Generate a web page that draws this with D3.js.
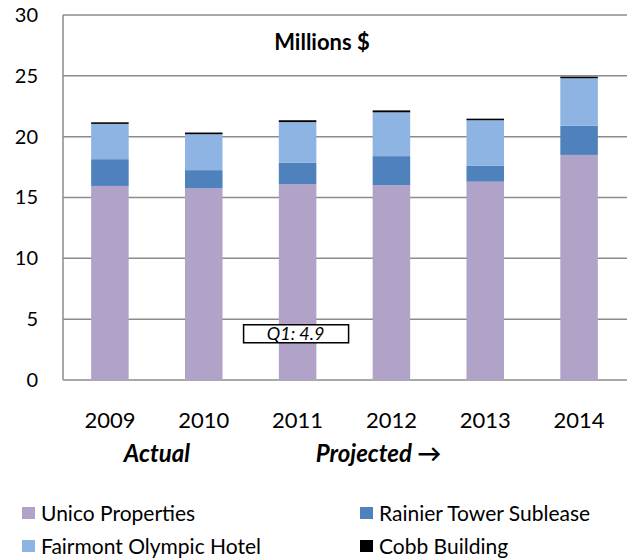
<!DOCTYPE html>
<html>
<head>
<meta charset="utf-8">
<script src="https://cdn.jsdelivr.net/npm/d3@7"></script>
<style>
  body { margin: 0; background: #fff; }
  svg { font-family: Lato, "Open Sans", sans-serif; }
</style>
</head>
<body>
<div id="chart"></div>
<script>
// Chart data (millions of dollars)
const years = ["2009", "2010", "2011", "2012", "2013", "2014"];
const seriesNames = ["Unico Properties", "Rainier Tower Sublease", "Fairmont Olympic Hotel", "Cobb Building"];
const unico = [15.95, 15.75, 16.1, 16.0, 16.3, 18.5];
const rainier = [2.2, 1.5, 1.75, 2.4, 1.3, 2.4];
const fairmont = [2.9, 2.95, 3.35, 3.6, 3.75, 3.9];
const cobb = [0.13, 0.14, 0.15, 0.16, 0.13, 0.13];
const yTicks = [0, 5, 10, 15, 20, 25, 30];
const colors = ["#b1a3c8", "#4f81bd", "#8eb4e3", "#000000"];

const width = 627;
const height = 558;
const margin = { top: 15, right: 1, bottom: 178, left: 63 };

const svg = d3.select("#chart")
    .append("svg")
    .attr("width", width)
    .attr("height", height);

// Build rows for the stack
const rows = years.map((y, i) => ({
    year: y,
    [seriesNames[0]]: unico[i],
    [seriesNames[1]]: rainier[i],
    [seriesNames[2]]: fairmont[i],
    [seriesNames[3]]: cobb[i]
}));
const stacked = d3.stack().keys(seriesNames)(rows);

const x = d3.scaleBand()
    .domain(years)
    .range([margin.left, width - margin.right])
    .paddingInner(0.6)
    .paddingOuter(0.3);

const y = d3.scaleLinear()
    .domain([0, 30])
    .range([height - margin.bottom, margin.top]);

// Gridlines
svg.append("g")
    .selectAll("line")
    .data(yTicks)
    .enter()
    .append("line")
    .attr("x1", margin.left)
    .attr("x2", width)
    .attr("y1", d => y(d))
    .attr("y2", d => y(d))
    .attr("stroke", "#8c8c8c")
    .attr("stroke-width", 1.5);

// Left axis line
svg.append("line")
    .attr("x1", margin.left)
    .attr("x2", margin.left)
    .attr("y1", y(30))
    .attr("y2", y(0))
    .attr("stroke", "#8c8c8c")
    .attr("stroke-width", 1.5);

// Y axis labels
const yAxis = svg.append("g")
    .attr("transform", `translate(${margin.left - 25},0)`)
    .call(d3.axisLeft(y).tickValues(yTicks).tickSize(0).tickPadding(0));
yAxis.select(".domain").remove();
yAxis.selectAll("text")
    .attr("font-family", "Lato, sans-serif")
    .attr("font-size", 20)
    .attr("fill", "#000");

// Stacked bars
svg.append("g")
    .selectAll("g")
    .data(stacked)
    .enter()
    .append("g")
    .attr("fill", (d, i) => colors[i])
    .selectAll("rect")
    .data(d => d)
    .enter()
    .append("rect")
    .attr("x", d => x(d.data.year))
    .attr("width", x.bandwidth())
    .attr("y", d => y(d[1]))
    .attr("height", d => y(d[0]) - y(d[1]));

// X axis labels
const xAxis = svg.append("g")
    .attr("transform", `translate(0,${y(0) + 48})`)
    .call(d3.axisBottom(x).tickSize(0).tickPadding(0));
xAxis.select(".domain").remove();
xAxis.selectAll("text")
    .attr("font-family", "Lato, sans-serif")
    .attr("font-size", 22)
    .attr("dy", 0)
    .attr("fill", "#000");

// Title
svg.append("text")
    .attr("x", 322)
    .attr("y", 50)
    .attr("text-anchor", "middle")
    .attr("font-weight", "bold")
    .attr("font-size", 22)
    .text("Millions $");

// Actual / Projected labels
svg.append("text")
    .attr("x", (x("2009") + x("2010") + x.bandwidth()) / 2)
    .attr("y", 462)
    .attr("text-anchor", "middle")
    .attr("font-weight", "bold")
    .attr("font-style", "italic")
    .attr("font-size", 24)
    .text("Actual");

svg.append("text")
    .attr("x", (x("2011") + x("2012") + x.bandwidth()) / 2 + 34)
    .attr("y", 462)
    .attr("text-anchor", "middle")
    .attr("font-weight", "bold")
    .attr("font-style", "italic")
    .attr("font-size", 24)
    .text("Projected \u2192");

// Q1 annotation box
const q1 = svg.append("g").attr("transform", `translate(${x("2011") + x.bandwidth() / 2 - 2},${y(3.8)})`);
q1.append("rect")
    .attr("x", -52)
    .attr("y", -9)
    .attr("width", 105)
    .attr("height", 18)
    .attr("fill", "#fff")
    .attr("stroke", "#000")
    .attr("stroke-width", 1.5);
q1.append("text")
    .attr("text-anchor", "middle")
    .attr("dy", "0.36em")
    .attr("font-style", "italic")
    .attr("font-size", 18)
    .text("Q1: 4.9");

// Legend
const legendPos = [[22, 513], [360, 513], [22, 546], [360, 546]];
const legend = svg.append("g")
    .selectAll("g")
    .data(seriesNames)
    .enter()
    .append("g")
    .attr("transform", (d, i) => `translate(${legendPos[i][0]},${legendPos[i][1]})`);
legend.append("rect")
    .attr("x", 0)
    .attr("y", -6)
    .attr("width", 13)
    .attr("height", 12)
    .attr("fill", (d, i) => colors[i]);
legend.append("text")
    .attr("x", 19)
    .attr("dy", "0.36em")
    .attr("font-size", 21)
    .text(d => d);
</script>
</body>
</html>
